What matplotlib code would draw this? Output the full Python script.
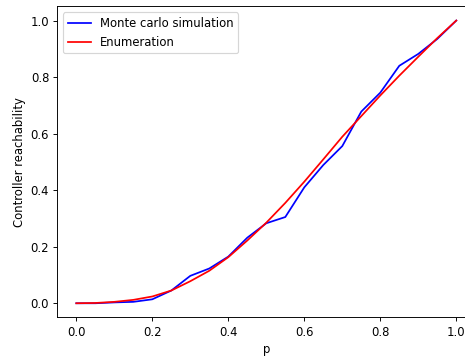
import matplotlib
matplotlib.use("Agg")
import matplotlib.pyplot as plt

p = [0.0, 0.05, 0.1, 0.15, 0.2, 0.25, 0.3, 0.35, 0.4, 0.45, 0.5,
     0.55, 0.6, 0.65, 0.7, 0.75, 0.8, 0.85, 0.9, 0.95, 1.0]
monte_carlo = [0.0, 0.0, 0.003, 0.005, 0.014, 0.045, 0.097, 0.123, 0.165, 0.232, 0.283,
               0.305, 0.41, 0.489, 0.556, 0.678, 0.745, 0.84, 0.882, 0.935, 1.0]
enumeration = [0.0, 0.001, 0.005, 0.012, 0.024, 0.045, 0.078, 0.115, 0.163, 0.222, 0.285,
               0.355, 0.43, 0.509, 0.589, 0.662, 0.735, 0.805, 0.872, 0.938, 1.0]

DPI = 83.4
W, H = 465, 358
fig = plt.figure(figsize=(W / DPI, H / DPI), dpi=DPI)
ax = fig.add_axes([57.3 / W, 1 - 317.4 / H, 418 / W, 311 / H])

ax.plot(p, monte_carlo, color="blue", label="Monte carlo simulation")
ax.plot(p, enumeration, color="red", label="Enumeration")

ax.set_xlabel("p")
ax.set_ylabel("Controller reachability")
ax.legend(loc="upper left")

fig.savefig("out.png", dpi=DPI)
